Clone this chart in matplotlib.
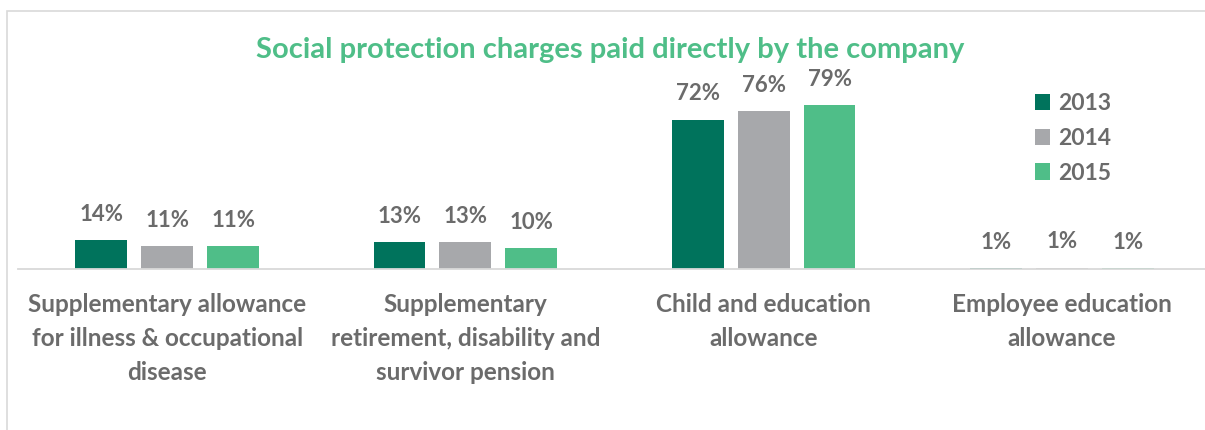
import matplotlib.pyplot as plt
import numpy as np
from matplotlib.patches import Rectangle

# data
categories = ["Supplementary allowance\nfor illness & occupational\ndisease",
              "Supplementary\nretirement, disability and\nsurvivor pension",
              "Child and education\nallowance",
              "Employee education\nallowance"]
years = ["2013", "2014", "2015"]
v2013 = [14, 13, 72, 0.5]
v2014 = [11, 13, 76, 0.7]
v2015 = [11, 10, 79, 0.5]
colors = ["#00735C", "#A7A8AB", "#4FBE88"]

plt.rcParams['font.family'] = ['Lato', 'DejaVu Sans']
txt_gray = "#6B6B6B"

fig = plt.figure(figsize=(12.05, 4.30), dpi=100)
# outer frame (only left and top visible in the crop)
fig.add_artist(Rectangle((7 / 1205, -0.2), 1.5, 1.2 - 11 / 430,
                         transform=fig.transFigure, fill=False,
                         ec="#D9D9D9", lw=1.2))

ax = fig.add_axes([18 / 1205, 161 / 430, 1187 / 1205, 207.5 / 430])
x = np.arange(len(categories))
w = 0.174
step = 0.221
for i, (vals, yr) in enumerate(zip([v2013, v2014, v2015], years)):
    bars = ax.bar(x + (i - 1) * step, vals, width=w, color=colors[i], label=yr)
    for b, v in zip(bars, vals):
        ax.annotate(f"{int(v + 0.5)}%", (b.get_x() + b.get_width() / 2, v),
                    xytext=(0, 11), textcoords="offset points",
                    ha="center", va="bottom", fontsize=16, fontweight="bold",
                    color=txt_gray)

ax.set_xlim(-0.5, 3.48)
ax.set_ylim(0, 100)
for s in ["top", "right", "left"]:
    ax.spines[s].set_visible(False)
ax.spines["bottom"].set_color("#D9D9D9")
ax.spines["bottom"].set_linewidth(1.3)
ax.set_yticks([])
ax.set_xticks(x)
ax.set_xticklabels(categories, fontsize=17.5, fontweight="bold", color=txt_gray,
                   linespacing=1.6)
ax.tick_params(axis="x", length=0, pad=17)

fig.text(0.506, 1 - 50 / 430, "Social protection charges paid directly by the company",
         ha="center", va="center", fontsize=21, fontweight="bold", color="#4FBE88")

leg = ax.legend(loc="upper left", bbox_to_anchor=(1035 / 1205, 1 - 93 / 430),
                bbox_transform=fig.transFigure, frameon=False, fontsize=16.5,
                handlelength=0.65, handleheight=0.7, handletextpad=0.35,
                labelspacing=0.6, borderaxespad=0, borderpad=0)
for t in leg.get_texts():
    t.set_color(txt_gray)
    t.set_fontweight("bold")

fig.savefig("out.png", dpi=100)
